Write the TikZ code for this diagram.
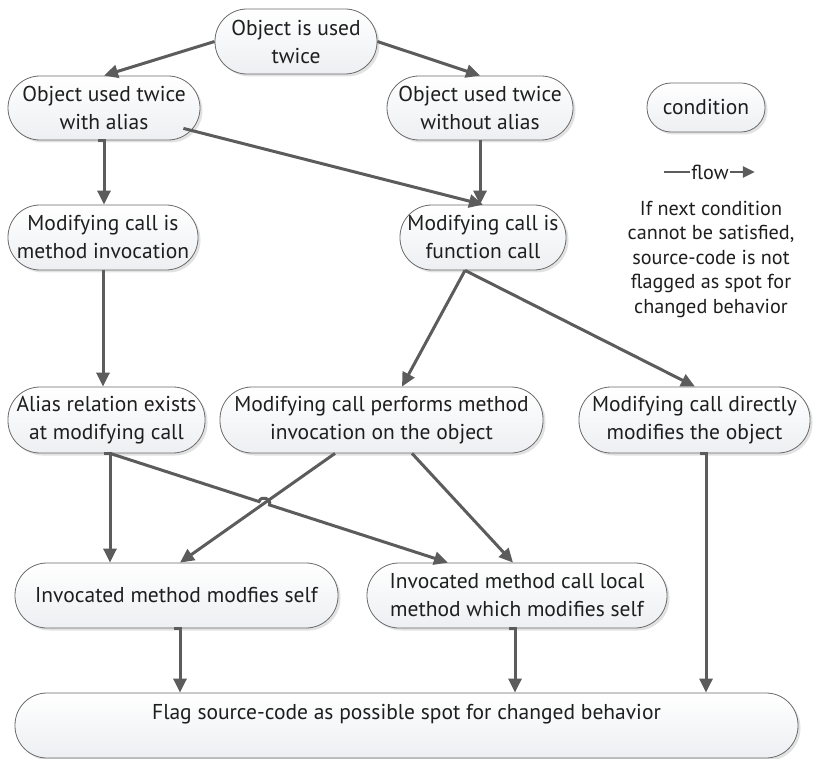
\documentclass[tikz,border=0pt]{standalone}
\usepackage{fontspec}
\setmainfont{PT Sans}
\usetikzlibrary{arrows.meta,calc,shadows}

\definecolor{linecol}{HTML}{5C5C5C}
\definecolor{nodeline}{HTML}{6A6A6A}
\definecolor{nodebot}{HTML}{EDEFF2}
\definecolor{shadowcol}{HTML}{E2E2E2}
\definecolor{textcol}{HTML}{1E1E1E}

\newcommand{\mainsize}{\fontsize{21.5}{28}\selectfont}
\newcommand{\legendsize}{\fontsize{20.2}{24.5}\selectfont}

\tikzset{
  cond/.style={draw=nodeline, line width=0.8pt, rounded corners=32pt,
    top color=white, bottom color=nodebot,
    general shadow={fill=shadowcol, shadow xshift=2.5pt, shadow yshift=-2.5pt},
    align=center, inner sep=0pt, minimum height=65pt,
    font=\mainsize, text=textcol},
  flow/.style={draw=linecol, line width=3pt,
    -{Triangle[length=14pt,width=13pt]}},
  glue/.style={fill=linecol}
}

\begin{document}
\begin{tikzpicture}[x=1pt, y=-1pt]
\useasboundingbox (0,0) rectangle (814,759);

% conditions
\node[cond, minimum width=162pt] (n1) at (296,41.5) {Object is used\\twice};
\node[cond, minimum width=192pt, minimum height=64pt] (n2) at (104,108) {Object used twice\\with alias};
\node[cond, minimum width=186pt, minimum height=64pt] (n3) at (480,108) {Object used twice\\without alias};
\node[cond, minimum width=190pt] (n7) at (103,237.5) {Modifying call is\\method invocation};
\node[cond, minimum width=166pt] (n8) at (483,237.5) {Modifying call is\\function call};
\node[cond, minimum width=197pt, minimum height=66pt] (n9) at (106.5,420) {Alias relation exists\\at modifying call};
\node[cond, minimum width=323pt, minimum height=66pt] (n10) at (381.5,420) {Modifying call performs method\\invocation on the object};
\node[cond, minimum width=231pt, minimum height=66pt] (n11) at (694.5,420) {Modifying call directly\\modifies the object};
\node[cond, minimum width=323pt] (n12) at (176.5,595.5) {Invocated method modfies self};
\node[cond, minimum width=300pt] (n13) at (517,595.5) {Invocated method call local\\method which modifies self};
\node[cond, minimum width=783pt] (n14) at (406.5,725.5) {Flag source-code as possible spot for changed behavior\\\mbox{}};

% legend
\node[cond, minimum width=118pt, minimum height=49pt, rounded corners=24pt] (lgc) at (706,107.5) {condition};
\node[font=\legendsize, text=textcol, inner sep=1pt] (lgf) at (710,172) {flow};
\coordinate (lgA) at ($(lgf.west)+(-26,0)$);
\coordinate (lgB) at ($(lgf.east)+(25,0)$);
\draw[draw=linecol, line width=2.8pt] (lgA) -- (lgf.west);
\draw[draw=linecol, line width=2.8pt, -{Triangle[length=12pt,width=11pt]}] (lgf.east) -- (lgB);
\node[font=\legendsize, text=textcol, align=center] (note) at (711,259)
  {If next condition\\cannot be satisfied,\\source-code is not\\flagged as spot for\\changed behavior};

% connection points
\coordinate (s2) at ($(n2.south east)+(-17,-12)$);
\coordinate (s8) at ($(n8.south)+(-18,0)$);
\coordinate (s9) at ($(n9.south)+(3.5,0)$);
\coordinate (s10a) at ($(n10.south)+(-46.5,0)$);
\coordinate (s10b) at ($(n10.south)+(30.5,0)$);
\coordinate (s11) at ($(n11.south)+(11.5,0)$);
\coordinate (s12) at ($(n12.south)+(3.5,0)$);
\coordinate (s13) at ($(n13.south)+(-2,0)$);
\coordinate (e10) at ($(n10.north)+(20.5,0)$);
\coordinate (e11) at ($(n11.north)+(0.5,0)$);
\coordinate (e12) at ($(n12.north)+(3.5,0)$);
\coordinate (e13a) at ($(n13.north)+(-69,0)$);
\coordinate (e13b) at ($(n13.north)+(-4,0)$);
\coordinate (hop) at (intersection of s9--e13a and s10a--e12);

% flow
\draw[flow] (n1.west) -- (n2.north);
\draw[flow] (n1.east) -- (n3.north);
\draw[flow] (n2.south) -- (n2.south |- n7.north);
\draw[flow] (s2) -- (n8.north);
\draw[flow] (n3.south) -- (n3.south |- n8.north);
\draw[flow] (n7.south) -- (n7.south |- n9.north);
\draw[flow] (s8) -- (e10);
\draw[flow] (s8) -- (e11);
\draw[flow] (s9) -- (s9 |- n12.north);
\draw[flow] (s10a) -- (e12);
\draw[flow] (s9) -- ($(hop)!5.5pt!(s9)$) to[bend left=90, looseness=1.6] ($(hop)!5.5pt!(e13a)$) -- (e13a);
\draw[flow] (s10b) -- (e13b);
\draw[flow] (s11) -- (s11 |- n14.north);
\draw[flow] (s12) -- (s12 |- n14.north);
\draw[flow] (s13) -- (s13 |- n14.north);

% glue marks where connectors leave a shape
\foreach \p in {n2.south, s9, s11, s12, s13}
  \fill[glue] ($(\p)+(-6.5,-1.5)$) rectangle ++(8,3);
\end{tikzpicture}
\end{document}
